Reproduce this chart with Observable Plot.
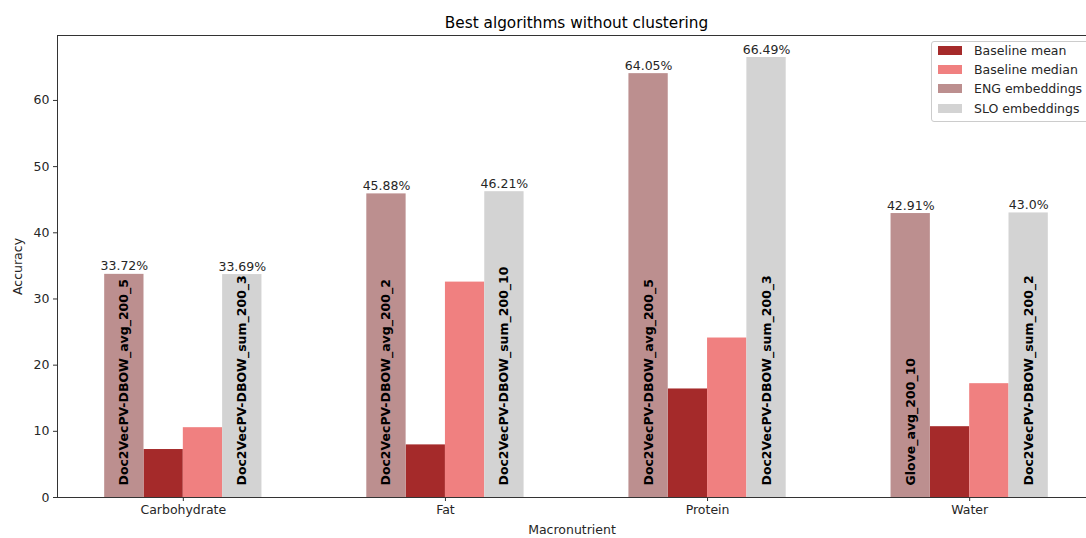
<!DOCTYPE html>
<html>
<head>
<meta charset="utf-8">
<script src="https://cdn.jsdelivr.net/npm/d3@7"></script>
<script src="https://cdn.jsdelivr.net/npm/@observablehq/plot@0.6"></script>
<style>
  html, body { margin: 0; padding: 0; background: #fff; }
  #wrap { position: relative; width: 1086px; height: 538px; overflow: hidden; font-family: "DejaVu Sans", sans-serif; }
  #legend {
    position: absolute; left: 931px; top: 41px; width: 170px;
    border: 1px solid #cccccc; border-radius: 3px; background: rgba(255,255,255,0.8);
    padding: 0 0 3px 0; font-size: 12.5px; color: #262626;
  }
  #legend .row { display: flex; align-items: center; height: 19.3px; }
  #legend .row:first-child { margin-top: -1.5px; }
  #legend .sw { width: 24px; height: 9px; margin: 0 12px 0 6px; }
</style>
</head>
<body>
<div id="wrap"></div>
<script>
// Macronutrients on the x axis
const categories = ["Carbohydrate", "Fat", "Protein", "Water"];

// Accuracy (%) per series
const engValues = [33.72, 45.88, 64.05, 42.91];
const meanValues = [7.25, 7.95, 16.4, 10.7];
const medianValues = [10.55, 32.55, 24.1, 17.2];
const sloValues = [33.69, 46.21, 66.49, 43.0];

// Best model per macronutrient
const engModels = ["Doc2VecPV-DBOW_avg_200_5", "Doc2VecPV-DBOW_avg_200_2", "Doc2VecPV-DBOW_avg_200_5", "Glove_avg_200_10"];
const sloModels = ["Doc2VecPV-DBOW_sum_200_3", "Doc2VecPV-DBOW_sum_200_10", "Doc2VecPV-DBOW_sum_200_3", "Doc2VecPV-DBOW_sum_200_2"];

const seriesNames = ["Baseline mean", "Baseline median", "ENG embeddings", "SLO embeddings"];
const seriesColors = ["#a52a2a", "#f08080", "#bc8f8f", "#d3d3d3"];
const yTicks = [0, 10, 20, 30, 40, 50, 60];

// Bars sit side by side: ENG, mean, median, SLO
const barWidth = 0.15;
const slot = {"ENG embeddings": -1.5, "Baseline mean": -0.5, "Baseline median": 0.5, "SLO embeddings": 1.5};
const seriesValues = {
  "Baseline mean": meanValues,
  "Baseline median": medianValues,
  "ENG embeddings": engValues,
  "SLO embeddings": sloValues
};

const bars = [];
for (const s of seriesNames) {
  categories.forEach((c, i) => {
    const center = i + slot[s] * barWidth;
    bars.push({series: s, category: c, value: seriesValues[s][i], center, x1: center - barWidth / 2, x2: center + barWidth / 2});
  });
}
const labelled = bars.filter(d => d.series === "ENG embeddings" || d.series === "SLO embeddings")
  .map(d => {
    const i = categories.indexOf(d.category);
    return {...d, model: d.series === "ENG embeddings" ? engModels[i] : sloModels[i]};
  });

// Python-style number printing: 43.0 stays "43.0"
const pct = v => (Number.isInteger(v) ? v.toFixed(1) : String(v)) + "%";

// 5% padding around the outermost bar edges
const xMin = -0.3 - 0.18, xMax = 3.3 + 0.18;
const yMax = 66.49 * 1.05;
const ink = "#262626";
const fs = 12.5;

const chart = Plot.plot({
  width: 1086,
  height: 538,
  marginLeft: 57,
  marginRight: 0,
  marginTop: 35,
  marginBottom: 41,
  style: {fontFamily: "DejaVu Sans, sans-serif", fontSize: fs + "px", color: ink, background: "#fff"},
  x: {type: "linear", domain: [xMin, xMax], range: [57, 1095]},
  y: {domain: [0, yMax]},
  color: {domain: seriesNames, range: seriesColors},
  marks: [
    Plot.rectY(bars, {x1: "x1", x2: "x2", y1: 0, y2: "value", fill: "series"}),
    Plot.text(labelled, {x: "center", y: "value", text: d => pct(d.value), lineAnchor: "bottom", dy: -4,
      fontSize: fs, fill: ink}),
    Plot.text(labelled, {x: "center", y: 0, text: "model", rotate: -90, textAnchor: "start", lineAnchor: "middle",
      dy: -12, fontSize: fs, fontWeight: "bold", fill: "#000"}),
    Plot.ruleY([0, yMax], {stroke: "#333", strokeWidth: 1}),
    Plot.ruleX([xMin], {stroke: "#333", strokeWidth: 1}),
    Plot.axisX({ticks: [0, 1, 2, 3], tickFormat: i => categories[i], tickSize: 4, tickPadding: 4, stroke: "#333",
      label: "Macronutrient", labelAnchor: "center", labelArrow: "none", labelOffset: 36, fontSize: fs}),
    Plot.axisY({ticks: yTicks, tickSize: 4, tickPadding: 4, stroke: "#333",
      label: "Accuracy", labelAnchor: "center", labelArrow: "none", labelOffset: 44, fontSize: fs}),
    Plot.text(["Best algorithms without clustering"], {x: 1.5, y: yMax, text: d => d, lineAnchor: "bottom",
      dy: -8, fontSize: 15.3, fill: "#000"})
  ]
});

const wrap = document.getElementById("wrap");
wrap.appendChild(chart);

// Legend in the upper right corner of the plot area
const legend = document.createElement("div");
legend.id = "legend";
seriesNames.forEach((name, i) => {
  const row = document.createElement("div");
  row.className = "row";
  const sw = document.createElement("span");
  sw.className = "sw";
  sw.style.background = seriesColors[i];
  const label = document.createElement("span");
  label.textContent = name;
  row.appendChild(sw);
  row.appendChild(label);
  legend.appendChild(row);
});
wrap.appendChild(legend);
</script>
</body>
</html>
